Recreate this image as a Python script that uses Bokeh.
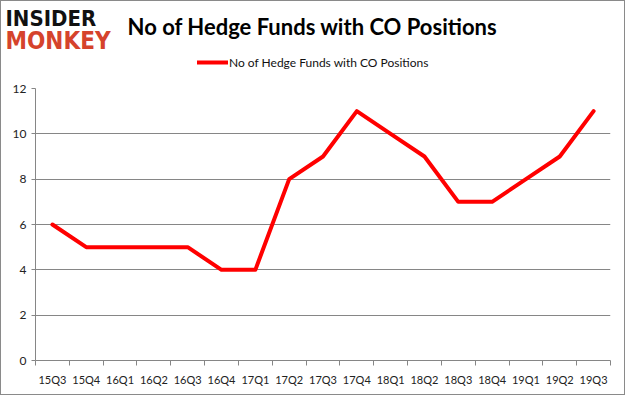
from bokeh.plotting import figure
from bokeh.layouts import column
from bokeh.models import (ColumnDataSource, FixedTicker, Range1d, Legend, LegendItem)
from bokeh.core.properties import value
from bokeh.embed import file_html
from bokeh.resources import INLINE

quarters = ["15Q3", "15Q4", "16Q1", "16Q2", "16Q3", "16Q4", "17Q1", "17Q2", "17Q3",
            "17Q4", "18Q1", "18Q2", "18Q3", "18Q4", "19Q1", "19Q2", "19Q3"]
funds = [6, 5, 5, 5, 5, 4, 4, 8, 9, 11, 10, 9, 7, 7, 8, 9, 11]
series_name = "No of Hedge Funds with CO Positions"
title_text = "No of Hedge Funds with CO Positions"
logo_top = "INSIDER"
logo_bottom = "MONKEY"

W = 620
HEAD_H = 80
LINE_COLOR = "#ff0000"
GRID = "#868686"
FONT = "Lato"
NAN = float("nan")

# ---------- header: logo, title, legend ----------
h = figure(width=W, height=HEAD_H, output_backend="svg", toolbar_location=None,
           x_range=Range1d(0, W), y_range=Range1d(HEAD_H, 0),
           x_axis_location=None, y_axis_location=None,
           min_border=0, min_border_left=0, min_border_right=0,
           min_border_top=0, min_border_bottom=0)
h.grid.visible = False
h.outline_line_color = None
h.border_fill_color = "white"

h.text(x=[4], y=[4], text=[logo_top], text_font=value("DejaVu Sans Condensed"),
       text_font_style="bold", text_font_size="22px", text_color="#111111",
       text_baseline="top", text_align="left")
h.text(x=[4], y=[25], text=[logo_bottom], text_font=value("DejaVu Sans Condensed"),
       text_font_style="bold", text_font_size="24px", text_color="#d5432c",
       text_baseline="top", text_align="left")
h.text(x=[311], y=[25], text=[title_text], text_font=value(FONT),
       text_font_style="bold", text_font_size="22px", text_color="#000000",
       text_baseline="middle", text_align="center")

# legend sample drawn from a hidden (NaN) line with the series style
dummy = h.line(x=[NAN, NAN], y=[NAN, NAN], line_color=LINE_COLOR, line_width=4, line_cap="round")
legend = Legend(items=[LegendItem(label=series_name, renderers=[dummy])],
                location=(196, HEAD_H - 61 - 8), orientation="horizontal",
                padding=0, margin=0, spacing=0, glyph_width=31, glyph_height=16,
                label_height=16, label_standoff=1, border_line_color=None,
                background_fill_alpha=0, label_text_font=FONT,
                label_text_font_size="12px", label_text_color="#111111")
h.add_layout(legend)

# ---------- chart ----------
xpos = [i + 0.5 for i in range(len(quarters))]
src = ColumnDataSource(dict(x=xpos, y=funds, q=quarters))

p = figure(width=W, height=310, output_backend="svg", toolbar_location=None,
           x_range=Range1d(0, len(quarters)), y_range=Range1d(0, 12),
           min_border_left=34, min_border_right=11, min_border_top=7, min_border_bottom=31)
p.outline_line_color = None
p.background_fill_color = "white"
p.border_fill_color = "white"

p.line("x", "y", source=src, line_color=LINE_COLOR, line_width=4,
       line_cap="round", line_join="round")

p.xgrid.visible = False
p.ygrid.grid_line_color = GRID
p.ygrid.ticker = FixedTicker(ticks=list(range(0, 13, 2)))

p.yaxis.ticker = FixedTicker(ticks=list(range(0, 13, 2)))
p.yaxis.axis_line_color = GRID
p.yaxis.major_tick_line_color = GRID
p.yaxis.major_tick_out = 4
p.yaxis.major_tick_in = 0
p.yaxis.minor_tick_line_color = None
p.yaxis.major_label_standoff = 5
p.yaxis.major_label_text_font = FONT
p.yaxis.major_label_text_font_size = "12px"
p.yaxis.major_label_text_color = "#222222"

p.xaxis.ticker = FixedTicker(ticks=xpos, minor_ticks=list(range(len(quarters) + 1)))
p.xaxis.major_label_overrides = {x: q for x, q in zip(xpos, quarters)}
p.xaxis.axis_line_color = GRID
p.xaxis.major_tick_line_color = None
p.xaxis.major_tick_out = 5
p.xaxis.minor_tick_line_color = GRID
p.xaxis.minor_tick_out = 5
p.xaxis.minor_tick_in = 0
p.xaxis.major_label_standoff = 7
p.xaxis.major_label_text_font = FONT
p.xaxis.major_label_text_font_size = "11px"
p.xaxis.major_label_text_color = "#222222"

layout = column(column(h), column(p), spacing=0,
                styles={"border": "1px solid #8a8a8a", "width": "625px", "height": "395px",
                        "box-sizing": "border-box", "background": "white"})
open("out.html", "w").write(file_html(layout, INLINE))
